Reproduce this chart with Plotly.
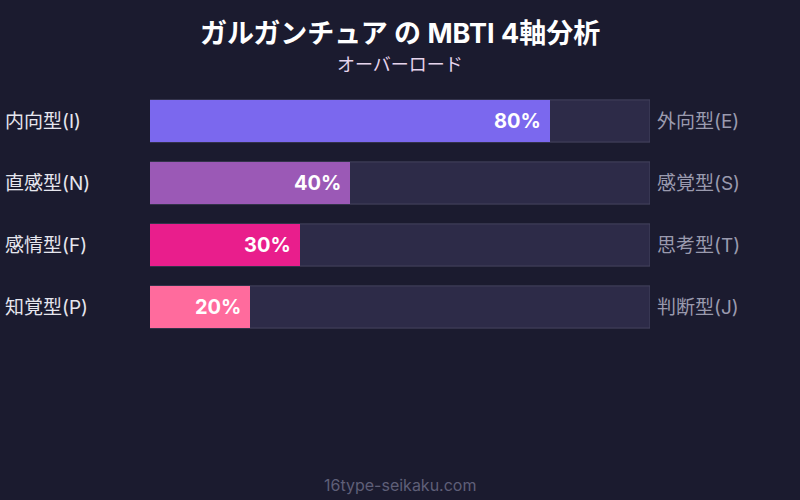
import plotly.graph_objects as go

# Data
left_labels = ["内向型(I)", "直感型(N)", "感情型(F)", "知覚型(P)"]
right_labels = ["外向型(E)", "感覚型(S)", "思考型(T)", "判断型(J)"]
scores = [80, 40, 30, 20]
bar_colors = ["#7B68EE", "#9B59B6", "#E91E8C", "#FF6B9D"]

BG = "#1b1b2f"
FONT = "Inter, Noto Sans CJK JP, sans-serif"

fig = go.Figure()

# Layer 1 - background tracks (full 100%)
fig.add_trace(go.Bar(
    x=[100] * len(left_labels), y=left_labels, orientation="h",
    marker=dict(color="#2d2b48", line=dict(color="#45445f", width=1)),
    hoverinfo="none", showlegend=False
))

# Layer 2 - score bars (rounded)
fig.add_trace(go.Bar(
    x=scores, y=left_labels, orientation="h",
    marker=dict(color=bar_colors, cornerradius=7, line=dict(width=0)),
    hoverinfo="none", showlegend=False
))

annotations = []
for lab, rlab, val in zip(left_labels, right_labels, scores):
    # percentage inside the end of the bar
    annotations.append(dict(
        x=val, y=lab, xref="x", yref="y", text=f"<b>{val}%</b>",
        showarrow=False, xanchor="right", xshift=-7,
        font=dict(size=20, color="white", family=FONT)
    ))
    # left pole label
    annotations.append(dict(
        x=0, y=lab, xref="paper", yref="y", text=lab,
        showarrow=False, xanchor="left", xshift=-147,
        font=dict(size=19, color="#e6e6ee", family=FONT)
    ))
    # right pole label
    annotations.append(dict(
        x=1, y=lab, xref="paper", yref="y", text=rlab,
        showarrow=False, xanchor="left", xshift=5,
        font=dict(size=19, color="#9a9aae", family=FONT)
    ))

# Title, subtitle, footer
annotations.append(dict(
    x=0.5, y=1, xref="paper", yref="paper", text="<b>ガルガンチュア の MBTI 4軸分析</b>",
    showarrow=False, yanchor="middle", yshift=57,
    font=dict(size=27, color="white", family=FONT)
))
annotations.append(dict(
    x=0.5, y=1, xref="paper", yref="paper", text="オーバーロード",
    showarrow=False, yanchor="middle", yshift=26,
    font=dict(size=18, color="#e6d4ec", family=FONT)
))
annotations.append(dict(
    x=0.5, y=0, xref="paper", yref="paper", text="16type-seikaku.com",
    showarrow=False, yanchor="middle", yshift=-147,
    font=dict(size=16, color="#5f5f78", family=FONT)
))

fig.update_layout(
    width=800, height=500,
    barmode="overlay", bargap=0.32,
    paper_bgcolor=BG, plot_bgcolor=BG,
    margin=dict(l=150, r=150, t=90, b=162),
    xaxis=dict(range=[0, 100], visible=False, fixedrange=True),
    yaxis=dict(autorange="reversed", visible=False, fixedrange=True),
    annotations=annotations,
    font=dict(family=FONT)
)

fig.write_html("out.html", config={"displayModeBar": False},
               post_script="document.body.style.margin='0';")
